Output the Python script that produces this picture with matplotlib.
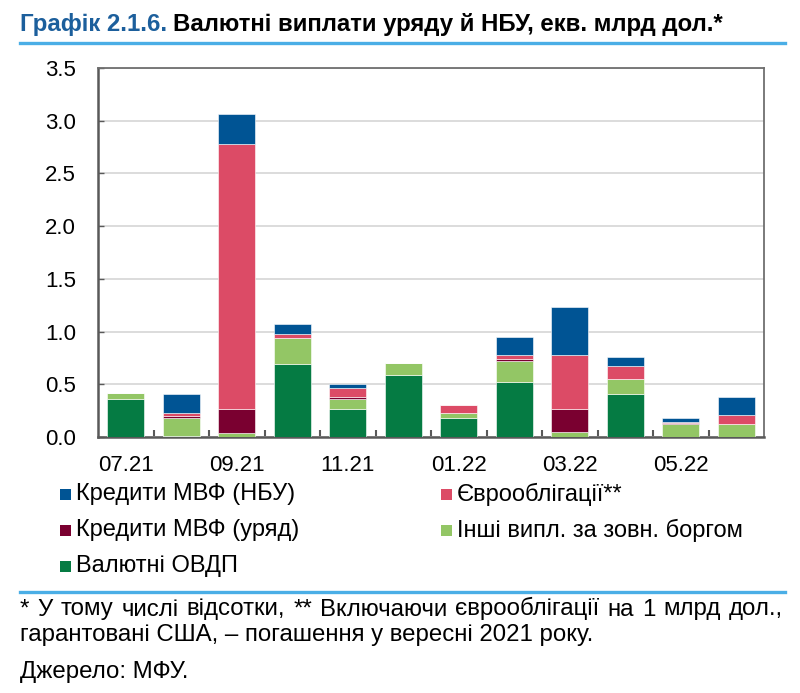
import matplotlib
matplotlib.use("Agg")
import matplotlib.pyplot as plt
from matplotlib.patches import Rectangle
from matplotlib.lines import Line2D
import numpy as np

plt.rcParams['font.family'] = ['Liberation Sans', 'DejaVu Sans']

months = ["07.21", "08.21", "09.21", "10.21", "11.21", "12.21",
          "01.22", "02.22", "03.22", "04.22", "05.22", "06.22"]
tick_labels = ["07.21", "", "09.21", "", "11.21", "", "01.22", "", "03.22", "", "05.22", ""]

ovdp      = [0.36, 0.01, 0.00, 0.69, 0.265, 0.59, 0.18, 0.52, 0.00, 0.41, 0.00, 0.00]
other     = [0.06, 0.17, 0.04, 0.25, 0.095, 0.11, 0.045, 0.20, 0.045, 0.14, 0.125, 0.12]
imf_gov   = [0.00, 0.02, 0.23, 0.00, 0.02, 0.00, 0.00, 0.02, 0.225, 0.00, 0.012, 0.00]
eurobonds = [0.00, 0.025, 2.51, 0.035, 0.085, 0.00, 0.075, 0.035, 0.51, 0.12, 0.01, 0.085]
imf_nbu   = [0.00, 0.18, 0.285, 0.095, 0.035, 0.00, 0.00, 0.175, 0.455, 0.085, 0.035, 0.175]

series = [
    ("Валютні ОВДП", ovdp, "#057B43"),
    ("Інші випл. за зовн. боргом", other, "#93C665"),
    ("Кредити МВФ (уряд)", imf_gov, "#7A0030"),
    ("Єврооблігації**", eurobonds, "#DC4B66"),
    ("Кредити МВФ (НБУ)", imf_nbu, "#005494"),
]

W, H = 800, 693
fig = plt.figure(figsize=(W / 100, H / 100), dpi=100)

def fx(x):
    return x / W

def fy(y):
    return 1 - y / H

ax = fig.add_axes([fx(98), fy(437), fx(764) - fx(98), fy(68) - fy(437)])

x = np.arange(len(months))
bottom = np.zeros(len(months))
for name, vals, col in series:
    v = np.array(vals)
    ax.bar(x, v, bottom=bottom, width=0.66, color=col, edgecolor="white",
           linewidth=0.4, zorder=3)
    bottom += v

ax.set_xlim(-0.5, len(months) - 0.5)
ax.set_ylim(0, 3.5)
ax.set_yticks(np.arange(0, 3.51, 0.5))
ax.set_yticklabels([f"{v:.1f}" for v in np.arange(0, 3.51, 0.5)])
ax.yaxis.grid(True, color="#D9D9D9", linewidth=1.3, zorder=0)
ax.set_axisbelow(True)

ax.set_xticks(x)
ax.set_xticklabels(tick_labels)
ax.tick_params(axis="x", length=0, pad=13, labelsize=16)
ax.set_xticks(np.arange(0.5, len(months) - 0.5, 1), minor=True)
ax.tick_params(axis="x", which="minor", direction="in", length=5, width=1.5, color="#595959")
ax.tick_params(axis="y", direction="in", length=4, width=1.0, color="#595959",
               pad=16, labelsize=16)

for s in ["left", "bottom"]:
    ax.spines[s].set_color("#595959")
    ax.spines[s].set_linewidth(1.8)
for s in ["top", "right"]:
    ax.spines[s].set_color("#6F6F6F")
    ax.spines[s].set_linewidth(1.3)

# Title
t1 = fig.text(fx(20), fy(30.5), "Графік 2.1.6.", color="#1C5F9C", fontsize=17.3,
              fontweight="bold", va="baseline", ha="left")
fig.canvas.draw()
renderer = fig.canvas.get_renderer()
bb = t1.get_window_extent(renderer)
fig.text(bb.x1 / W + fx(6), fy(30.5), "Валютні виплати уряду й НБУ, екв. млрд дол.*",
         color="black", fontsize=17.3, fontweight="bold", va="baseline", ha="left")

# Separator lines
fig.add_artist(Line2D([fx(20), fx(785)], [fy(42.5), fy(42.5)], color="#4AAEE6",
                      linewidth=2.4, transform=fig.transFigure))
fig.add_artist(Line2D([fx(20), fx(785)], [fy(592), fy(592)], color="#4AAEE6",
                      linewidth=2.4, transform=fig.transFigure))

# Legend (manual)
legend_items = [
    ("Кредити МВФ (НБУ)", "#005494", 60, 494),
    ("Кредити МВФ (уряд)", "#7A0030", 60, 530),
    ("Валютні ОВДП", "#057B43", 60, 566),
    ("Єврооблігації**", "#DC4B66", 441, 494),
    ("Інші випл. за зовн. боргом", "#93C665", 441, 530),
]
for label, col, lx, ly in legend_items:
    fig.add_artist(Rectangle((fx(lx), fy(ly + 5.5)), fx(11), 11 / H, facecolor=col,
                             edgecolor="none", transform=fig.transFigure))
    fig.text(fx(lx + 16), fy(ly), label, fontsize=17, va="center", ha="left", color="black")

# Footnotes
fn_size = 17.3
line1 = "* У тому числі відсотки, ** Включаючи єврооблігації на 1 млрд дол.,"
words = line1.split(" ")
word_texts = [fig.text(0, fy(615.5), w, fontsize=fn_size, va="baseline", ha="left")
              for w in words]
widths = [t.get_window_extent(renderer).width for t in word_texts]
x_start, x_end = 20, 783
gap = (x_end - x_start - sum(widths)) / (len(words) - 1)
xpos = x_start
for t, w in zip(word_texts, widths):
    t.set_x(fx(xpos))
    xpos += w + gap

fig.text(fx(20), fy(640.5), "гарантовані США, – погашення у вересні 2021 року.",
         fontsize=fn_size, va="baseline", ha="left")
fig.text(fx(20), fy(678), "Джерело: МФУ.", fontsize=fn_size, va="baseline", ha="left")

fig.savefig("out.png", dpi=100)
